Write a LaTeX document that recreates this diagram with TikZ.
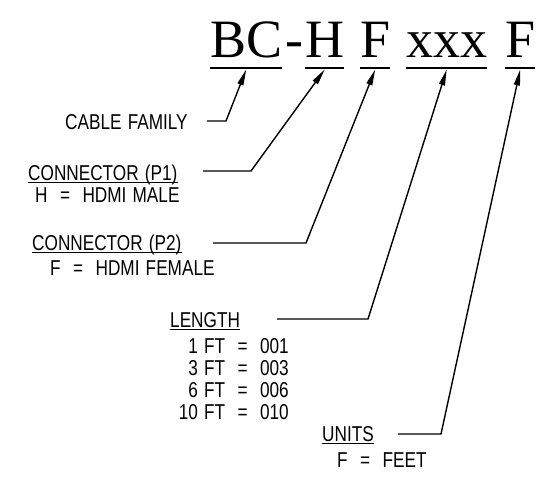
\documentclass[tikz,border=0pt]{standalone}
\usepackage{fontspec}
\newfontfamily\cadfont[FakeStretch=0.8, WordSpace=1.3]{Liberation Sans}
\newfontfamily\partfont{Liberation Serif}
\usetikzlibrary{arrows.meta}

\begin{document}
\begin{tikzpicture}[x=1pt, y=-1pt, >={Triangle[length=16pt,width=6pt]}]
    \tikzset{
        part/.style={inner sep=0, anchor=base west, font=\partfont\fontsize{54}{54}\selectfont},
        note/.style={inner sep=0, anchor=base west, font=\cadfont\fontsize{21.5}{24}\selectfont},
        bar/.style={line width=2.5pt},
        uline/.style={line width=1pt},
        lead/.style={line width=1.4pt},
    }
    \useasboundingbox (0,0) rectangle (556,477);

    % part number
    \node[part] (bc) at (210,57) {BC};
    \node[part] (dash) at (285,57) {-};
    \node[part] (h) at (305,57) {H};
    \node[part] (f1) at (360,57) {F};
    \node[part] (xxx) at (406,57) {xxx};
    \node[part] (f2) at (505,57) {F};
    \foreach \n in {bc,h,f1,xxx,f2}
        \draw[bar] ([yshift=-11pt]\n.base west) -- ([yshift=-11pt]\n.base east);

    % notes
    \node[note] (fam) at (65,129) {CABLE FAMILY};
    \node[note] (p1) at (28,180) {CONNECTOR (P1)};
    \node[note] (p1val) at (35,202) {H~~=~~HDMI MALE};
    \node[note] (p2) at (32,250) {CONNECTOR (P2)};
    \node[note] (p2val) at (50,275) {F~~=~~HDMI FEMALE};
    \node[note] (len) at (170,327) {LENGTH};
    \foreach \ft/\code/\y in {1/001/353, 3/003/375, 6/006/397, 10/010/419}
        \node[note, anchor=base east] (ft\ft) at (289,\y) {\ft~FT~~=~~\code};
    \node[note] (units) at (322,441) {UNITS};
    \node[note] (unitsval) at (337,467) {F~~=~~FEET};
    \foreach \n in {p1,p2,len,units}
        \draw[uline] ([yshift=-2pt]\n.base west) -- ([yshift=-2pt]\n.base east);

    % leaders
    \coordinate (famend) at (207,121);
    \coordinate (famknee) at (226,121);
    \coordinate (p1end) at (203,171);
    \coordinate (p1knee) at (251,171);
    \coordinate (p2end) at (213,243);
    \coordinate (p2knee) at (306,243);
    \coordinate (lenend) at (277,319);
    \coordinate (lenknee) at (368,319);
    \coordinate (unitsend) at (398,434);
    \coordinate (unitsknee) at (441,434);
    \draw[lead,->] (famend) -- (famknee) -- ([yshift=-12.5pt]bc.base);
    \draw[lead,->] (p1end) -- (p1knee) -- ([yshift=-12.5pt]h.base);
    \draw[lead,->] (p2end) -- (p2knee) -- ([yshift=-12.5pt]f1.base);
    \draw[lead,->] (lenend) -- (lenknee) -- ([yshift=-12.5pt]xxx.base);
    \draw[lead,->] (unitsend) -- (unitsknee) -- ([yshift=-12.5pt]f2.base);
\end{tikzpicture}
\end{document}
